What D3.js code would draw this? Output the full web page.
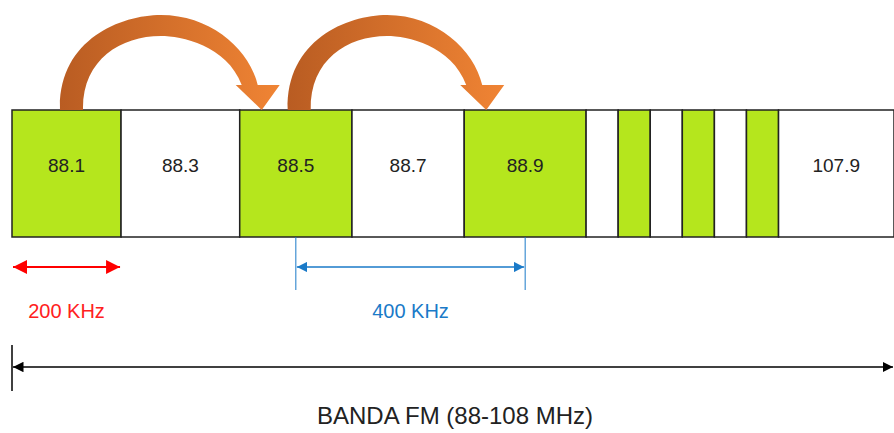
<!DOCTYPE html>
<html>
<head>
<meta charset="utf-8">
<script src="https://cdn.jsdelivr.net/npm/d3@7"></script>
<style>
  body { margin: 0; background: #fff; }
  text { font-family: Arial, "Liberation Sans", sans-serif; }
</style>
</head>
<body>
<script>
// channel cells along the band (relative widths)
var labels  = ["88.1", "88.3", "88.5", "88.7", "88.9", "", "", "", "", "", "", "107.9"];
var used    = [true, false, true, false, true, false, true, false, true, false, true, false];
var weights = [3.4, 3.7, 3.5, 3.5, 3.8, 1, 1, 1, 1, 1, 1, 3.6];
var hops    = [[0, 2], [2, 4]];

var width = 894, height = 433;
var svg = d3.select("body").append("svg").attr("width", width).attr("height", height);

var defs = svg.append("defs");
var g = defs.append("linearGradient").attr("id", "org");
g.append("stop").attr("offset", "0%").attr("stop-color", "#b95c22");
g.append("stop").attr("offset", "100%").attr("stop-color", "#f08434");
function mk(id, col) {
  defs.append("marker").attr("id", id).attr("viewBox", "0 0 10 10").attr("refX", 10).attr("refY", 5)
    .attr("markerWidth", 7).attr("markerHeight", 7).attr("orient", "auto-start-reverse")
    .append("path").attr("d", "M0,0L10,5L0,10z").attr("fill", col);
}
mk("red", "#ff0000"); mk("blue", "#1a7ac8"); mk("blk", "#000");

var cum = [0];
weights.forEach(function (w, i) { cum.push(cum[i] + w); });
var x = d3.scaleLinear().domain([0, cum[cum.length - 1]]).range([12, 894]);
var yTop = 110, yBot = 237;

var cells = svg.selectAll("g.cell").data(labels).enter().append("g");
cells.append("rect")
  .attr("x", function (d, i) { return x(cum[i]); })
  .attr("y", yTop)
  .attr("width", function (d, i) { return x(cum[i + 1]) - x(cum[i]); })
  .attr("height", yBot - yTop)
  .attr("fill", function (d, i) { return used[i] ? "#b5e61d" : "#fff"; })
  .attr("stroke", "#222").attr("stroke-width", 1.5);
cells.append("text")
  .attr("x", function (d, i) { return (x(cum[i]) + x(cum[i + 1])) / 2; })
  .attr("y", 172).attr("text-anchor", "middle").attr("font-size", 19).attr("fill", "#222")
  .text(function (d) { return d; });

// curved orange arrows
hops.forEach(function (h) {
  var a = x(cum[h[0]]) + 48, b = x(cum[h[1]]) + 22;
  var w = b - a, m = a + w * 0.5;
  var p = d3.path();
  p.moveTo(a, yTop);
  p.bezierCurveTo(a - 2, 40, a + w * 0.3, 15, m, 15);
  p.bezierCurveTo(b - w * 0.25, 15, b - 12, 50, b - 4, 85);
  p.lineTo(b + 18, 85);
  p.lineTo(b, yTop);
  p.lineTo(b - 26, 85);
  p.lineTo(b - 20, 85);
  p.bezierCurveTo(b - 35, 45, m + 20, 36, m, 36);
  p.bezierCurveTo(a + w * 0.3, 36, a + 22, 60, a + 23, yTop);
  p.closePath();
  svg.append("path").attr("d", p.toString()).attr("fill", "url(#org)");
});

// 200 KHz
svg.append("line").attr("x1", x(cum[0]) + 1).attr("x2", x(cum[1]) - 1).attr("y1", 267).attr("y2", 267)
  .attr("stroke", "#ff0000").attr("stroke-width", 2)
  .attr("marker-start", "url(#red)").attr("marker-end", "url(#red)");
svg.append("text").attr("x", (x(cum[0]) + x(cum[1])) / 2).attr("y", 318).attr("text-anchor", "middle")
  .attr("font-size", 20).attr("fill", "#ff2020").text("200 KHz");

// 400 KHz
var b1 = (x(cum[2]) + x(cum[3])) / 2, b2 = (x(cum[4]) + x(cum[5])) / 2;
[b1, b2].forEach(function (v) {
  svg.append("line").attr("x1", v).attr("x2", v).attr("y1", yBot).attr("y2", 290)
    .attr("stroke", "#1a7ac8").attr("stroke-width", 1);
});
svg.append("line").attr("x1", b1 + 1).attr("x2", b2 - 1).attr("y1", 267).attr("y2", 267)
  .attr("stroke", "#1a7ac8").attr("stroke-width", 1.5)
  .attr("marker-start", "url(#blue)").attr("marker-end", "url(#blue)");
svg.append("text").attr("x", (b1 + b2) / 2).attr("y", 318).attr("text-anchor", "middle")
  .attr("font-size", 20).attr("fill", "#1a7ac8").text("400 KHz");

// whole band
svg.append("line").attr("x1", 12).attr("x2", 12).attr("y1", 345).attr("y2", 391).attr("stroke", "#000").attr("stroke-width", 1.5);
svg.append("line").attr("x1", 13).attr("x2", 893).attr("y1", 367).attr("y2", 367)
  .attr("stroke", "#000").attr("stroke-width", 1.5)
  .attr("marker-start", "url(#blk)").attr("marker-end", "url(#blk)");
svg.append("text").attr("x", 455).attr("y", 424).attr("text-anchor", "middle")
  .attr("font-size", 24).attr("fill", "#222").text("BANDA FM (88-108 MHz)");
</script>
</body>
</html>
